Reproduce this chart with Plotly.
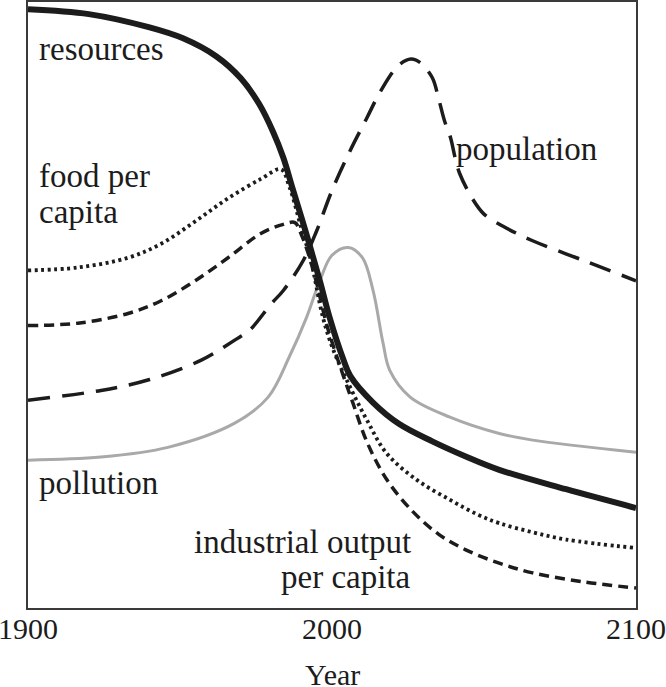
import plotly.graph_objects as go

# values, level on a 0-100 relative scale
res_years = [1900, 1920, 1940, 1951, 1962, 1970, 1976, 1980.6, 1984, 1987, 1992, 1996, 1999.3, 2003.6, 2006, 2013.5, 2022, 2033, 2044, 2055, 2077, 2100]
res_level = [98.8, 98.0, 95.8, 94.0, 91.0, 87.4, 83.2, 78.6, 74.3, 69.3, 61.0, 54.0, 47.8, 41.2, 38.3, 33.9, 30.4, 27.5, 25.0, 22.8, 19.6, 16.5]

food_years = [1900, 1916.4, 1932.9, 1943.8, 1955, 1965.8, 1976.6, 1983.2, 1986, 1990, 1993, 1997, 2000.5, 2006, 2011.5, 2018, 2028, 2039, 2048, 2055, 2066, 2077, 2100]
food_level = [55.7, 56.2, 57.8, 60.1, 63.8, 67.6, 70.8, 72.4, 69.5, 62.5, 57.5, 48.0, 42.5, 36.4, 31.0, 25.5, 21.1, 17.8, 15.4, 14.0, 12.5, 11.3, 9.9]

ind_years = [1900, 1916.4, 1932.9, 1943.8, 1955, 1965.8, 1976.6, 1984, 1987.8, 1990, 1992, 1995, 1998.4, 2003.6, 2006.9, 2011.5, 2018, 2026.6, 2035, 2044, 2055, 2066, 2083, 2100]
ind_level = [46.6, 47.0, 48.6, 50.7, 54.0, 57.8, 61.8, 63.3, 63.6, 61.5, 58.8, 53.5, 46.5, 38.5, 33.8, 27.4, 21.2, 15.9, 12.2, 9.6, 7.4, 5.8, 4.3, 3.3]

pop_years = [1900, 1924, 1940, 1957, 1968, 1973, 1980, 1984, 1990.5, 1995, 2000, 2006, 2011.5, 2016, 2022, 2026, 2029, 2033, 2035, 2037, 2039, 2040.5, 2042, 2046, 2050, 2057, 2066, 2083, 2100]
pop_level = [34.3, 35.9, 37.7, 40.9, 44.2, 45.9, 50.2, 52.4, 57.3, 62.3, 68.9, 75.5, 80.9, 85.3, 89.6, 90.6, 90.0, 87.5, 84.2, 80.4, 77.6, 74.3, 71.7, 67.7, 65.0, 62.8, 60.6, 57.3, 54.0]

pol_years = [1900, 1924, 1946, 1968, 1979, 1986, 1991.5, 1996, 2000, 2005.3, 2010, 2013.5, 2016.8, 2019, 2025.7, 2038.8, 2055, 2066, 2100]
pol_level = [24.4, 24.9, 26.5, 30.5, 34.8, 41.5, 47.8, 54.0, 58.2, 59.5, 57.8, 52.4, 43.7, 39.2, 34.8, 31.5, 28.8, 27.7, 25.7]

tick_years = [1900, 2000, 2100]

SERIF = 'Liberation Serif, DejaVu Serif, serif'
INK = '#1c1c1c'

fig = go.Figure()

fig.add_trace(go.Scatter(x=pol_years, y=pol_level, mode='lines', line_shape='spline',
                         line=dict(color='#a9a9a9', width=3)))
fig.add_trace(go.Scatter(x=pop_years, y=pop_level, mode='lines', line_shape='spline',
                         line=dict(color=INK, width=3.5, dash='22px,12px')))
fig.add_trace(go.Scatter(x=ind_years, y=ind_level, mode='lines', line_shape='spline',
                         line=dict(color=INK, width=3.5, dash='10px,6px')))
fig.add_trace(go.Scatter(x=food_years, y=food_level, mode='lines', line_shape='spline',
                         line=dict(color=INK, width=3.8, dash='3px,3.5px')))
fig.add_trace(go.Scatter(x=res_years, y=res_level, mode='lines', line_shape='spline',
                         line=dict(color=INK, width=6)))

def label(text, x, y, anchor='left'):
    fig.add_annotation(x=x, y=y, text=text, showarrow=False, xanchor=anchor, yanchor='middle',
                       font=dict(family=SERIF, size=33, color=INK))

label('resources', 1903, 92.3)
label('food per', 1903, 71.3)
label('capita', 1903, 65.4)
label('population', 2040.1, 75.7)
label('pollution', 1903, 20.7)
label('industrial output', 2026.6, 10.9, anchor='right')
label('per capita', 2026.6, 5.1, anchor='right')

# axis title as paper annotation so the margins stay put
fig.add_annotation(x=0.5, y=-0.109, xref='paper', yref='paper', text='Year', showarrow=False,
                   xanchor='center', yanchor='middle', font=dict(family=SERIF, size=30, color=INK))

axis_common = dict(showgrid=False, zeroline=False, mirror=True, showline=True,
                   linecolor='#3a3a3a', linewidth=2, automargin=False)

fig.update_layout(
    width=666, height=687,
    margin=dict(l=28, r=30, t=2, b=79),
    plot_bgcolor='white', paper_bgcolor='white',
    showlegend=False,
    xaxis=dict(range=[1900, 2100], tickvals=tick_years, ticktext=[str(t) for t in tick_years],
               ticks='', ticklabelstandoff=-7, ticklabeloverflow='allow',
               tickfont=dict(family=SERIF, size=30, color=INK),
               **axis_common),
    yaxis=dict(range=[0, 100], showticklabels=False, ticks='', **axis_common),
)

# default page has an 8px body margin; drop it so the figure sits at the window corner
fig.write_html("out.html", config={'displayModeBar': False},
               post_script="document.body.style.margin='0';")
